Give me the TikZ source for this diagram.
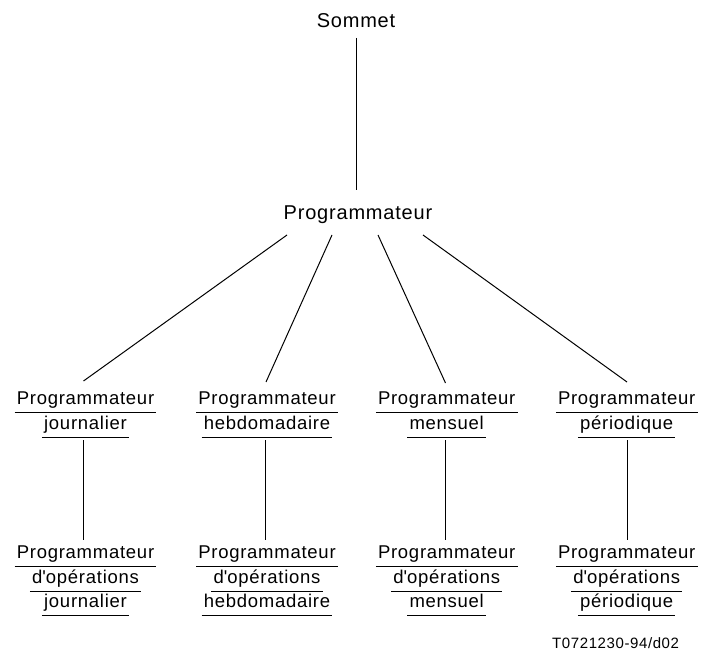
\documentclass[tikz,border=0pt]{standalone}
\usepackage{fontspec}
\setmainfont{Liberation Sans}[LetterSpace=4]
\begin{document}
\begin{tikzpicture}[x=1pt,y=-1pt,
  txt/.style={anchor=base,inner xsep=2pt,inner ysep=1pt,font=\fontsize{18.5}{20}\selectfont},
  big/.style={anchor=base,inner sep=1pt,font=\fontsize{20}{22}\selectfont},
  ul/.style={line width=1.1pt},
  conn/.style={line width=1pt}]
\useasboundingbox (0,0) rectangle (705,650);
\newcommand\ulnode[3]{%
  \node[txt] (#1) at (#2) {#3};
  \draw[ul] ([yshift=-8.5pt]#1.base west) -- ([yshift=-8.5pt]#1.base east);}
% top levels
\node[big] (som) at (356,28) {Sommet};
\node[big] (prog) at (358,220) {Programmateur};
\coordinate (t1) at (356,38);
\coordinate (t2) at (356,190);
\draw[conn] (t1) -- (t2);
% level 2
\ulnode{a1}{85.5,404}{Programmateur}
\ulnode{a2}{85.5,429}{journalier}
\ulnode{b1}{267,404}{Programmateur}
\ulnode{b2}{267,429}{hebdomadaire}
\ulnode{c1}{446.7,404}{Programmateur}
\ulnode{c2}{446.7,429}{mensuel}
\ulnode{d1}{626.7,404}{Programmateur}
\ulnode{d2}{626.7,429}{périodique}
% level 3
\ulnode{a3}{85.5,558}{Programmateur}
\ulnode{a4}{85.5,583}{d\textquotesingle opérations}
\ulnode{a5}{85.5,607}{journalier}
\ulnode{b3}{267,558}{Programmateur}
\ulnode{b4}{267,583}{d\textquotesingle opérations}
\ulnode{b5}{267,607}{hebdomadaire}
\ulnode{c3}{446.7,558}{Programmateur}
\ulnode{c4}{446.7,583}{d\textquotesingle opérations}
\ulnode{c5}{446.7,607}{mensuel}
\ulnode{d3}{626.7,558}{Programmateur}
\ulnode{d4}{626.7,583}{d\textquotesingle opérations}
\ulnode{d5}{626.7,607}{périodique}
% fan-out connectors
\coordinate (s1) at (287,235); \coordinate (e1) at (83.5,381);
\coordinate (s2) at (332,235); \coordinate (e2) at (266,382);
\coordinate (s3) at (378,235); \coordinate (e3) at (445.5,383);
\coordinate (s4) at (423,235); \coordinate (e4) at (627,382);
\draw[conn] (s1) -- (e1);
\draw[conn] (s2) -- (e2);
\draw[conn] (s3) -- (e3);
\draw[conn] (s4) -- (e4);
% vertical connectors
\foreach \n/\x in {a/83.5,b/265.5,c/445.5,d/627}{
  \coordinate (\n top) at (\x,440);
  \coordinate (\n bot) at (\x,540);
  \draw[conn] (\n top) -- (\n bot);
}
\node[anchor=base west,inner sep=0pt,font=\fontsize{15}{17}\selectfont] (ref) at (552,648) {T0721230-94/d02};
\end{tikzpicture}
\end{document}
